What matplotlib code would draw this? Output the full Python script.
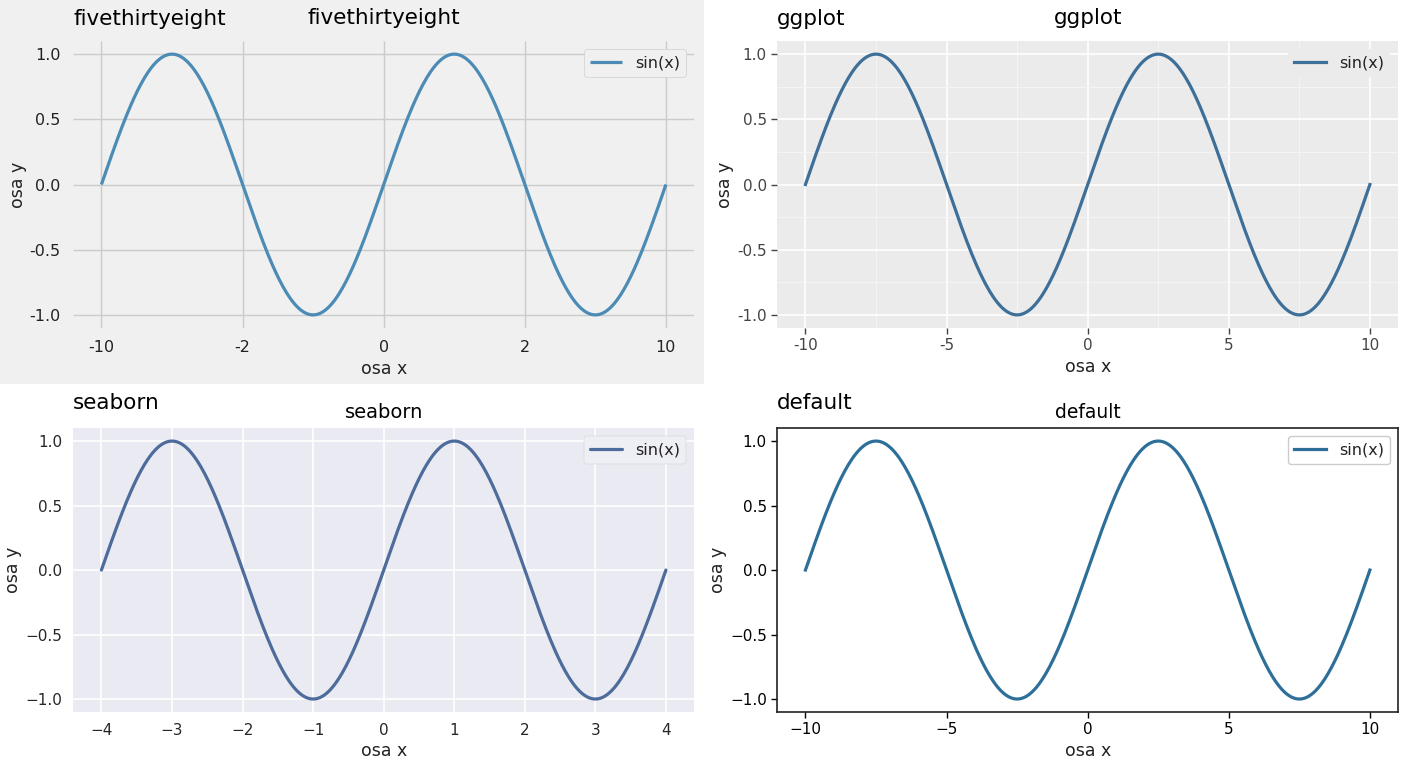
import numpy as np
import matplotlib
matplotlib.use('Agg')
import matplotlib.pyplot as plt
from matplotlib.ticker import MultipleLocator

# data: one sine wave per panel, same label everywhere
styles = ['fivethirtyeight', 'ggplot', 'seaborn-v0_8', 'default']
titles = ['fivethirtyeight', 'ggplot', 'seaborn', 'default']
x_wide = np.linspace(-10, 10, 500)
y_wide = np.sin(np.pi * x_wide / 5)
x_narrow = np.linspace(-4, 4, 500)
y_narrow = np.sin(np.pi * x_narrow / 2)
series_label = 'sin(x)'
x_label = 'osa x'
y_label = 'osa y'

wide_ticks = [-10, -5, 0, 5, 10]
wide_labels_538 = ['-10', '-2', '0', '2', '10']
wide_labels_gg = ['-10', '-5', '0', '5', '10']
narrow_ticks = [-4, -3, -2, -1, 0, 1, 2, 3, 4]
y_ticks = [-1.0, -0.5, 0.0, 0.5, 1.0]
y_labels_hyphen = ['-1.0', '-0.5', '0.0', '0.5', '1.0']

line_colors = ['#4b8bb5', '#3d6f98', '#4d6c9b', '#2d6f99']

fig = plt.figure(figsize=(14.08, 7.68), dpi=100, facecolor='white')
subfigs = fig.subfigures(2, 2, wspace=0, hspace=0).ravel()

for i, (sf, st, name) in enumerate(zip(subfigs, styles, titles)):
    with plt.style.context(st):
        if i == 0:
            sf.set_facecolor('#f0f0f0')
        else:
            sf.set_facecolor('white')
        top = 0.893 if i < 2 else 0.885
        ax = sf.add_axes([0.104, 0.146, 0.882, top - 0.146])

        if i == 2:
            ax.plot(x_narrow, y_narrow, color=line_colors[i], lw=2.3, label=series_label)
        else:
            ax.plot(x_wide, y_wide, color=line_colors[i], lw=2.3, label=series_label)

        sf.suptitle(name, x=0.104, y=0.977, ha='left', va='top', fontsize=15.5, color='black')

        if i == 0:
            ax.set_facecolor('#f0f0f0')
            ax.set_xticks(wide_ticks, wide_labels_538)
            ax.set_yticks(y_ticks, y_labels_hyphen)
            ax.grid(True, color='#cbcbcb', lw=1.0)
            ax.tick_params(labelsize=11.5, colors='#222222', length=0, pad=9)
            for s in ax.spines.values():
                s.set_visible(False)
            ax.set_title(name, fontsize=15.5, pad=12, color='black')
            leg = ax.legend(loc='upper right', fontsize=11.5, frameon=True,
                            facecolor='#f0f0f0', edgecolor='#d0d0d0', framealpha=1)
        elif i == 1:
            ax.set_facecolor('#ebebeb')
            ax.set_xticks(wide_ticks, wide_labels_gg)
            ax.set_yticks(y_ticks, y_labels_hyphen)
            ax.xaxis.set_minor_locator(MultipleLocator(2.5))
            ax.yaxis.set_minor_locator(MultipleLocator(0.25))
            ax.grid(True, which='major', color='white', lw=1.2)
            ax.grid(True, which='minor', color='#f4f4f4', lw=0.8)
            ax.tick_params(which='minor', length=0)
            ax.tick_params(which='major', labelsize=11, colors='#444444', length=4, width=1)
            for s in ax.spines.values():
                s.set_visible(False)
            ax.set_title(name, fontsize=15.5, pad=12, color='black')
            leg = ax.legend(loc='upper right', fontsize=11.5, frameon=True,
                            facecolor='#ebebeb', edgecolor='none', framealpha=1)
        elif i == 2:
            ax.set_facecolor('#eaeaf2')
            ax.set_xticks(narrow_ticks)
            ax.set_yticks(y_ticks)
            ax.grid(True, color='white', lw=1.2)
            ax.tick_params(labelsize=11, colors='#262626', length=0, pad=8)
            for s in ax.spines.values():
                s.set_visible(False)
            ax.set_title(name, fontsize=14, pad=7, color='black')
            leg = ax.legend(loc='upper right', fontsize=11.5, frameon=True,
                            facecolor='#eeeef5', edgecolor='#cccccc', framealpha=1)
        else:
            ax.set_xticks(wide_ticks)
            ax.set_yticks(y_ticks)
            ax.tick_params(labelsize=11, colors='black', length=4, width=1)
            for s in ax.spines.values():
                s.set_linewidth(1.2)
                s.set_color('#222222')
            ax.set_title(name, fontsize=13.5, pad=7, color='black')
            leg = ax.legend(loc='upper right', fontsize=11.5, frameon=True,
                            facecolor='white', edgecolor='#cccccc', framealpha=1)

        for t in leg.get_texts():
            t.set_color('#222222')
        ax.set_xlabel(x_label, fontsize=12.5, color='#222222', labelpad=3)
        ax.set_ylabel(y_label, fontsize=12.5, color='#222222', labelpad=2)
        ax.set_ylim(-1.1, 1.1)

fig.savefig('out.png', dpi=100, facecolor=fig.get_facecolor())
